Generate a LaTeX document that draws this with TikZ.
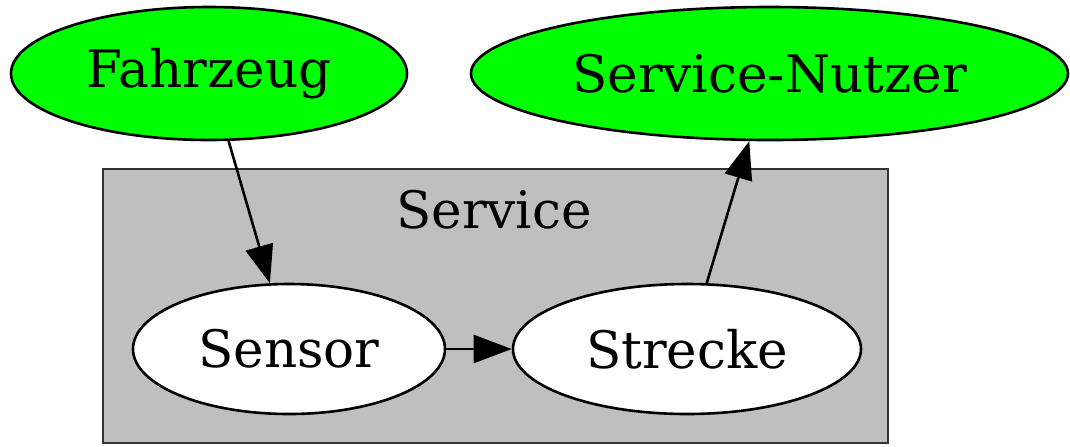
\documentclass[tikz,border=0pt]{standalone}
\usepackage{fontspec}
\setmainfont{DejaVu Serif}
\usetikzlibrary{shapes.geometric,arrows.meta}
\begin{document}
\begin{tikzpicture}[x=0.5pt,y=-0.5pt,
  el/.style={ellipse,draw=black,line width=1.3pt,inner sep=0pt,font=\fontsize{25.8}{30}\selectfont},
  grn/.style={el,fill=green},
  wht/.style={el,fill=white},
  arr/.style={-{Triangle[length=19pt,width=14pt]},line width=1.3pt,shorten >=0pt}]
\useasboundingbox (0,0) rectangle (1070,446);
\node[draw=black!80,fill=black!25,line width=1.3pt,minimum width=392.5pt,minimum height=137pt,inner sep=0pt] (cl) at (495.5,306) {};
\node[font=\fontsize{25.8}{30}\selectfont] (cllab) at (494,210) {Service};
\node[grn,minimum width=198pt,minimum height=66.5pt] (f) at (209,73.5) {Fahrzeug};
\node[grn,minimum width=298.5pt,minimum height=66.5pt] (n) at (769.5,73.5) {Service-Nutzer};
\node[wht,minimum width=156pt,minimum height=65pt] (s) at (289,349) {Sensor};
\node[wht,minimum width=174pt,minimum height=65pt] (t) at (687,349) {Strecke};
\draw[arr] (f) -- (s);
\draw[arr] (s) -- (t);
\draw[arr] (t) -- (n);
\end{tikzpicture}
\end{document}
